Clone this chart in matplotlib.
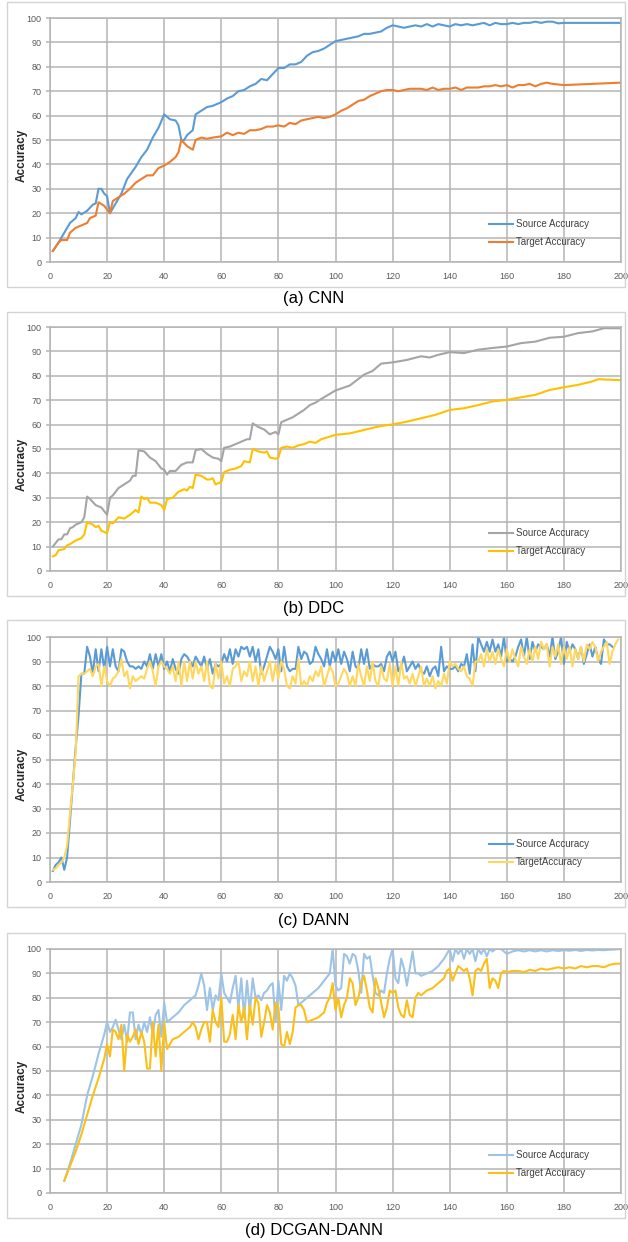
import numpy as np
import matplotlib
matplotlib.use("Agg")
import matplotlib.pyplot as plt
from matplotlib.patches import Rectangle

plt.rcParams['font.family'] = ['Liberation Sans', 'DejaVu Sans']

W, H = 628, 1242

# ---------------- (a) CNN ----------------
cnn_src_x = [1, 3, 5, 7, 9, 10, 11, 13, 15, 16, 17, 18, 19, 20, 21, 23, 25, 27, 30, 32, 34, 36, 38, 40,
             42, 44, 45, 46, 47, 48, 50, 51, 53, 55, 57, 60, 62, 64, 66, 68, 70, 72, 74, 76, 78, 80,
             82, 84, 86, 88, 90, 92, 94, 96, 98, 100, 102, 104, 106, 108, 110, 112, 114, 116, 118,
             120, 122, 124, 126, 128, 130, 132, 134, 136, 138, 140, 142, 144, 146, 148, 150, 152,
             154, 156, 158, 160, 162, 164, 166, 168, 170, 172, 174, 176, 178, 180, 200]
cnn_src_y = [4.5, 8, 12, 16, 18, 20.5, 19.5, 21, 23.5, 24, 30, 30, 28, 27, 20, 24, 28, 34, 39, 43, 46, 51,
             55, 60.5, 58.5, 58, 56, 50, 50, 52, 54, 60.5, 62, 63.5, 64, 65.5, 67, 68, 70, 70.5, 72,
             73, 75, 74.5, 77, 79.5, 79.5, 81, 81, 82, 84.5, 86, 86.5, 87.5, 89, 90.5, 91, 91.5, 92,
             92.5, 93.5, 93.5, 94, 94.5, 96, 97, 96.5, 96, 96.5, 97, 96.5, 97.5, 96.5, 97.5, 97,
             96.5, 97.5, 97, 97.5, 97, 97.5, 98, 97, 98, 97.5, 97.5, 98, 97.5, 98, 98, 98.5, 98,
             98.5, 98.5, 97.8, 98, 98]
cnn_tgt_x = [1, 3, 4, 6, 7, 9, 11, 13, 14, 16, 17, 19, 21, 22, 24, 26, 28, 30, 32, 34, 36, 38, 40, 42,
             44, 45, 46, 48, 50, 51, 53, 55, 57, 60, 62, 64, 66, 68, 70, 72, 74, 76, 78, 80, 82, 84,
             86, 88, 90, 92, 94, 96, 98, 100, 102, 104, 106, 108, 110, 112, 114, 116, 118, 120, 122,
             124, 126, 128, 130, 132, 134, 136, 138, 140, 142, 144, 146, 148, 150, 152, 154, 156,
             158, 160, 162, 164, 166, 168, 170, 172, 174, 176, 180, 200]
cnn_tgt_y = [4.5, 8, 9, 9, 12, 14, 15, 16, 18, 19, 24.5, 23, 20, 25, 26.5, 28, 30, 32.5, 34, 35.5, 35.5,
             38.5, 39.5, 41, 43, 45, 50, 47.5, 46, 50, 51, 50.5, 51, 51.5, 53, 52, 53, 52.5, 54, 54,
             54.5, 55.5, 55.5, 56, 55.5, 57, 56.5, 58, 58.5, 59, 59.5, 59, 59.5, 60.5, 62, 63, 64.5,
             66, 66.5, 68, 69, 70, 70.5, 70.5, 70, 70.5, 71, 71, 71, 70.5, 71.5, 70.5, 71, 71, 71.5,
             70.5, 71.5, 71.5, 71.5, 72, 72, 72.5, 72, 72.5, 71.5, 72.5, 72.5, 73, 72, 73, 73.5, 73,
             72.5, 73.5]

# ---------------- (b) DDC ----------------
ddc_src_x = [1, 3, 4, 5, 6, 7, 8, 9, 11, 12, 13, 14, 16, 18, 19, 20, 21, 22, 24, 26, 28, 29, 30, 31,
             33, 35, 37, 39, 40, 41, 42, 44, 46, 48, 50, 51, 53, 55, 57, 59, 60, 61, 63, 65, 67, 69,
             70, 71, 73, 75, 77, 79, 80, 81, 83, 85, 87, 89, 91, 93, 95, 100, 105, 110, 113, 116,
             120, 125, 130, 133, 136, 140, 145, 150, 155, 160, 165, 170, 175, 180, 185, 190, 194, 200]
ddc_src_y = [10, 13, 13, 15, 15, 17.5, 18, 19, 20, 22, 30.5, 29.5, 27, 26, 24.5, 23, 30, 31, 34, 35.5,
             37, 39, 39, 49.5, 49, 46.5, 45, 42, 41.5, 39.5, 41, 41, 43.5, 44.5, 44.5, 49.5, 50, 48,
             46.5, 46, 45, 50.5, 51, 52, 53, 54, 54, 60.5, 59, 58, 56, 57, 56, 61, 62, 63, 64.5, 66,
             68, 69, 70.5, 74, 76, 80.5, 82, 85, 85.5, 86.5, 88, 87.5, 88.6, 89.7, 89.3, 90.7, 91.4,
             92, 93.4, 94, 95.6, 96, 97.5, 98.2, 99.5, 99.5]
ddc_tgt_x = [1, 2, 3, 5, 6, 7, 9, 10, 11, 12, 13, 15, 16, 17, 18, 19, 20, 21, 22, 24, 26, 28, 30, 31,
             32, 33, 34, 35, 37, 39, 40, 41, 43, 45, 47, 48, 49, 50, 51, 53, 55, 56, 57, 58, 60, 61,
             63, 65, 67, 68, 70, 71, 73, 75, 76, 77, 79, 80, 81, 83, 85, 87, 89, 91, 93, 95, 100,
             105, 110, 115, 120, 125, 130, 135, 140, 145, 150, 155, 160, 165, 170, 175, 180, 185,
             190, 192, 200]
ddc_tgt_y = [6, 6.5, 8.5, 9, 10.5, 11, 12.5, 13, 13.5, 15, 20, 19, 18, 18.5, 16.5, 16, 15.5, 20, 19.5,
             22, 21.5, 23, 25, 24, 30.5, 29.5, 30, 28, 28, 27, 25, 29.5, 30, 32.5, 33.5, 33, 34.5, 34,
             39.5, 39, 37.5, 37.5, 38, 35.5, 36.5, 40.5, 41.5, 42, 43, 45, 44.5, 50, 49, 48.5, 49,
             46.5, 46, 46.5, 50.5, 51, 50.5, 51.5, 52, 53, 52.5, 54, 55.8, 56.4, 57.8, 59.2, 60.1,
             61.2, 62.6, 64, 66, 66.7, 68, 69.5, 70.1, 71.2, 72.2, 74.2, 75.3, 76.3, 77.7, 78.6, 78.2]

# ---------------- (c) DANN (one value per epoch) ----------------
dann_src = [4.5, 7, 8, 10, 5, 10, 25, 40, 55, 68, 85, 85, 96, 92, 85, 95, 86, 95, 87, 96,
            88, 95, 88, 86, 95, 94, 90, 88, 88, 87, 88, 87, 90, 88, 93, 87, 93, 88, 93, 87,
            90, 86, 91, 87, 85, 91, 93, 92, 90, 88, 92, 90, 88, 92, 87, 91, 85, 89, 88, 89,
            93, 90, 95, 89, 95, 92, 96, 95, 96, 92, 96, 90, 95, 85, 88, 92, 96, 94, 91, 95,
            86, 96, 88, 86, 87, 87, 96, 91, 94, 93, 89, 90, 96, 93, 91, 88, 95, 88, 94, 90,
            95, 89, 94, 91, 86, 94, 88, 87, 95, 89, 95, 87, 89, 88, 88, 89, 86, 92, 94, 90,
            94, 86, 88, 92, 86, 88, 90, 87, 89, 86, 85, 88, 84, 87, 88, 84, 96, 86, 88, 87,
            87, 88, 86, 89, 88, 93, 85, 97, 86, 100, 97, 94, 98, 94, 99, 94, 97, 92, 100, 90,
            91, 90, 92, 96, 99, 92, 100, 91, 98, 94, 97, 96, 95, 97, 92, 100, 91, 94, 100, 89,
            98, 94, 97, 95, 91, 96, 89, 93, 97, 92, 96, 91, 89, 99, 97, 97, 96]
dann_tgt = [5, 5.5, 7, 8, 10, 15, 28, 40, 53, 84, 85, 85, 86, 87, 84, 88, 89, 80, 88, 82,
            80, 83, 84, 86, 91, 84, 86, 79, 84, 82, 83, 84, 83, 87, 90, 86, 80, 88, 90, 88,
            87, 85, 88, 82, 90, 80, 90, 82, 90, 83, 90, 85, 88, 82, 90, 80, 79, 89, 83, 90,
            81, 84, 80, 87, 88, 90, 82, 86, 84, 90, 82, 88, 80, 88, 82, 86, 90, 82, 89, 83,
            90, 87, 80, 79, 84, 81, 91, 80, 82, 80, 84, 82, 86, 84, 88, 80, 84, 88, 86, 80,
            81, 84, 87, 85, 80, 84, 80, 89, 84, 80, 88, 82, 90, 82, 80, 88, 83, 82, 89, 80,
            88, 80, 90, 83, 84, 81, 85, 80, 84, 88, 80, 83, 80, 84, 79, 82, 80, 85, 81, 90,
            88, 89, 87, 86, 88, 84, 83, 80, 90, 90, 93, 88, 95, 90, 94, 89, 95, 91, 88, 95,
            90, 95, 91, 88, 96, 92, 89, 95, 90, 96, 91, 98, 95, 97, 88, 96, 92, 97, 89, 96,
            91, 96, 88, 95, 91, 96, 90, 97, 95, 98, 96, 90, 94, 96, 98, 89, 94, 97, 99]

# ---------------- (d) DCGAN-DANN ----------------
gan_src_x = [5, 7, 9, 11, 13, 15, 17, 19, 20, 21, 22, 23, 24, 25, 26, 27, 28, 29, 30, 31, 32, 33, 34,
             35, 36, 37, 38, 39, 40, 41, 43, 45, 47, 49, 51, 52, 53, 54, 55, 56, 57, 58, 59, 60, 61,
             62, 63, 64, 65, 66, 67, 68, 69, 70, 71, 72, 73, 74, 75, 76, 77, 78, 79, 80, 81, 82, 83,
             84, 85, 86, 87, 88, 90, 92, 94, 96, 98, 99, 100, 101, 102, 103, 104, 105, 106, 107,
             108, 109, 110, 111, 112, 113, 114, 115, 116, 117, 118, 119, 120, 121, 122, 123, 124,
             125, 126, 127, 128, 129, 130, 132, 134, 136, 138, 139, 140, 141, 142, 143, 144, 145,
             146, 147, 148, 149, 150, 151, 152, 153, 154, 155, 156, 158, 160, 162, 164, 166, 168,
             170, 172, 174, 176, 178, 180, 182, 184, 186, 188, 190, 192, 194, 196, 198, 200]
gan_src_y = [5, 12, 20, 28, 40, 48, 57, 65, 70, 66, 68, 71, 67, 63, 69, 62, 74, 74, 63, 69, 65, 70, 66,
             72, 65, 73, 75, 64, 78, 70, 72, 74, 77, 79, 81, 85, 90, 85, 75, 84, 75, 81, 79, 90, 82,
             80, 78, 84, 89, 76, 88, 72, 87, 74, 88, 80, 81, 79, 82, 83, 85, 86, 70, 87, 75, 89, 87,
             90, 88, 85, 77, 78, 80, 82, 84, 87, 90, 100, 85, 83, 84, 98, 97, 94, 98, 97, 91, 82, 98,
             96, 97, 89, 82, 81, 83, 82, 90, 96, 100, 88, 86, 96, 92, 85, 92, 99, 90, 90, 89, 90, 91,
             93, 96, 98, 100, 95, 100, 98, 100, 96, 100, 98, 100, 95, 100, 98, 100, 97, 100, 99, 100,
             100, 98, 99, 99.5, 99, 99.5, 99, 99.5, 99, 99.5, 99.2, 99.5, 99.3, 99.6, 99.2, 99.6,
             99.4, 99.6, 99.5, 99.7, 99.8, 100]
gan_tgt_x = [5, 7, 9, 11, 13, 15, 17, 19, 20, 21, 22, 23, 24, 25, 26, 27, 28, 29, 30, 31, 32, 33, 34,
             35, 36, 37, 38, 39, 40, 41, 42, 43, 45, 47, 49, 50, 51, 52, 53, 54, 55, 56, 57, 58, 59,
             60, 61, 62, 63, 64, 65, 66, 67, 68, 69, 70, 71, 72, 73, 74, 75, 76, 77, 78, 79, 80, 81,
             82, 83, 84, 85, 86, 87, 88, 89, 90, 92, 94, 96, 97, 98, 99, 100, 101, 102, 103, 104,
             105, 106, 107, 108, 109, 110, 111, 112, 113, 114, 115, 116, 117, 118, 119, 120, 121,
             122, 123, 124, 125, 126, 127, 128, 129, 130, 132, 134, 136, 138, 139, 140, 141, 142,
             143, 144, 145, 146, 147, 148, 149, 150, 151, 152, 153, 154, 155, 156, 157, 158, 159,
             160, 162, 164, 166, 168, 170, 172, 174, 176, 178, 180, 182, 184, 186, 188, 190, 192,
             194, 196, 198, 200]
gan_tgt_y = [5, 11, 17, 24, 32, 40, 47, 55, 61, 56, 67, 66, 63, 69, 50, 65, 62, 64, 67, 61, 66, 62, 51,
             51, 70, 56, 69, 50, 70, 59, 61, 63, 64, 66, 68, 70, 68, 63, 67, 70, 70, 62, 75, 70, 68,
             80, 62, 62, 65, 73, 63, 77, 70, 76, 63, 77, 69, 80, 78, 64, 70, 77, 74, 67, 78, 76, 61,
             60, 66, 61, 66, 76, 77, 77, 75, 70, 71, 72, 74, 78, 80, 86, 75, 80, 72, 77, 80, 88, 86,
             77, 80, 86, 89, 83, 76, 74, 88, 84, 78, 72, 76, 83, 82, 83, 76, 73, 72, 79, 73, 72, 80,
             82, 81, 83, 84, 86, 88, 91, 92, 87, 90, 93, 92, 91, 92, 88, 81, 91, 92, 91, 94, 96, 84,
             88, 87, 84, 90, 91, 90.5, 91, 91, 90.5, 91.5, 91, 92, 91.5, 92, 92.5, 92, 92.5, 92, 93,
             92.5, 93, 93, 92.5, 93.5, 94, 94]

epochs = np.arange(1, 200)

panels = [
    dict(top=18, bottom=262, frame=(2, 287), cap_y=298, caption="(a) CNN",
         series=[(cnn_src_x, cnn_src_y, '#5B9BD5', 'Source Accuracy'),
                 (cnn_tgt_x, cnn_tgt_y, '#ED7D31', 'Target Accuracy')]),
    dict(top=327, bottom=571, frame=(312, 596), cap_y=609, caption="(b) DDC",
         series=[(ddc_src_x, ddc_src_y, '#A5A5A5', 'Source Accuracy'),
                 (ddc_tgt_x, ddc_tgt_y, '#FFC000', 'Target Accuracy')]),
    dict(top=637, bottom=882, frame=(620, 907), cap_y=921, caption="(c) DANN",
         series=[(epochs[:len(dann_src)], dann_src, '#5B9BD5', 'Source Accuracy'),
                 (epochs[:len(dann_tgt)], dann_tgt, '#FFD75E', 'TargetAccuracy')]),
    dict(top=949, bottom=1193, frame=(933, 1218), cap_y=1230, caption="(d) DCGAN-DANN",
         series=[(gan_src_x, gan_src_y, '#9DC3E6', 'Source Accuracy'),
                 (gan_tgt_x, gan_tgt_y, '#FBBF1A', 'Target Accuracy')]),
]

fig = plt.figure(figsize=(W / 100, H / 100), dpi=100)
fig.patch.set_facecolor('white')

left_px, right_px = 50, 621
grid_c = '#b4b4b4'

for p in panels:
    f0, f1 = p['frame']
    fig.add_artist(Rectangle((7 / W, 1 - f1 / H), (625 - 7) / W, (f1 - f0) / H,
                             transform=fig.transFigure, fill=False,
                             edgecolor='#d4d4d4', lw=1.0))

    ax = fig.add_axes([left_px / W, 1 - p['bottom'] / H,
                       (right_px - left_px) / W, (p['bottom'] - p['top']) / H])
    for x, y, c, lab in p['series']:
        ax.plot(x, y, color=c, lw=1.5, label=lab, solid_joinstyle='round')
    ax.set_xlim(0, 200)
    ax.set_ylim(0, 100)
    ax.set_xticks(range(0, 201, 20))
    ax.set_yticks(range(0, 101, 10))
    ax.grid(True, color=grid_c, lw=1.1)
    ax.set_axisbelow(True)
    for s in ax.spines.values():
        s.set_color(grid_c)
        s.set_linewidth(1.1)
    ax.tick_params(axis='y', length=3, width=1.1, color=grid_c, pad=3,
                   labelsize=6.5, labelcolor='#595959')
    ax.tick_params(axis='x', length=0, pad=7, labelsize=6.5, labelcolor='#595959')

    mid = (p['top'] + p['bottom']) / 2 + 15
    fig.text(22 / W, 1 - mid / H, 'Accuracy', rotation=90, ha='center', va='center',
             fontsize=8.5, fontweight='bold', color='#262626')
    fig.text(314 / W, 1 - p['cap_y'] / H, p['caption'], ha='center', va='center',
             fontsize=12, fontstretch='condensed',
             family=['Liberation Sans Narrow', 'Liberation Sans'], color='black')

    ax.legend(loc='lower right', bbox_to_anchor=(0.952, 0.04), frameon=False,
              fontsize=7, handlelength=2.4, handletextpad=0.3, labelspacing=0.85,
              borderpad=0, labelcolor='#404040')

fig.savefig('out.png', dpi=100, facecolor='white')
